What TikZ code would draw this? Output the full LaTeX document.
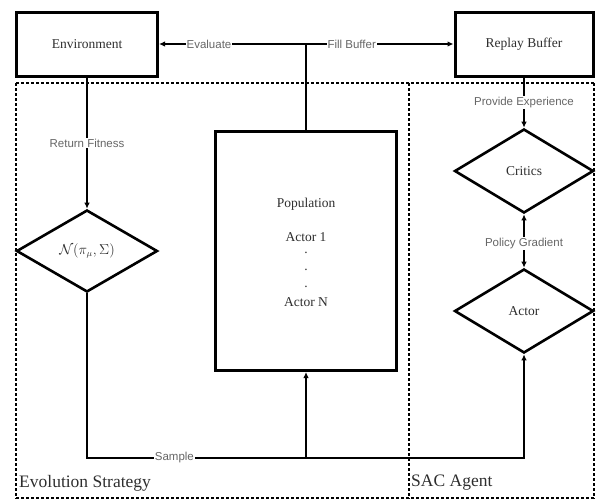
\documentclass[tikz,border=0pt]{standalone}
\usepackage{fontspec}
\setmainfont{Liberation Serif}
\newfontfamily\lblfont{Liberation Sans}
\usetikzlibrary{shapes.geometric,arrows.meta}
\definecolor{lblgray}{HTML}{666666}
\definecolor{boxtext}{HTML}{2E2E2E}
\tikzset{
  boxnode/.style={draw, line width=3pt, rectangle, inner sep=0pt, text=boxtext, font=\fontsize{13.5}{16}\selectfont},
  dianode/.style={draw, line width=2.6pt, diamond, inner sep=0pt, text=boxtext, font=\fontsize{13.5}{16}\selectfont},
  conn/.style={draw, line width=2.2pt},
  tip/.style={-{Latex[length=6pt,width=5.5pt]}},
  dtip/.style={{Latex[length=6pt,width=5.5pt]}-{Latex[length=6pt,width=5.5pt]}},
  lbl/.style={fill=white, inner sep=1pt, text=lblgray, font=\lblfont\fontsize{11.5}{13}\selectfont},
  region/.style={draw, line width=1.2pt, dash pattern=on 3pt off 2pt},
  regionlbl/.style={anchor=west, inner sep=0pt, text=boxtext, font=\fontsize{17.5}{20}\selectfont},
  poptext/.style={inner sep=0pt, text=boxtext, font=\fontsize{13.5}{16}\selectfont}
}
\begin{document}
\begin{tikzpicture}[x=1pt,y=-1pt]
\useasboundingbox (0,0) rectangle (596,499);
% regions
\draw[region] (16,83) -- (594,83);
\draw[region] (16,83) -- (16,499);
\draw[region] (409,83) -- (409,499);
\draw[region] (594,83) -- (594,499);
\draw[region] (16,498) -- (594,498);
\node[regionlbl] (es) at (19,483) {Evolution Strategy};
\node[regionlbl] (sac) at (411,483) {SAC Agent};
% nodes
\node[boxnode, minimum width=141pt, minimum height=64pt] (env) at (87,44) {Environment};
\node[boxnode, minimum width=138pt, minimum height=64pt] (rb) at (524,44) {Replay Buffer};
\node[boxnode, minimum width=181pt, minimum height=239pt] (pop) at (306,251) {};
\node[poptext] (pt) at (306,204) {Population};
\node[poptext] (a1) at (306,237) {Actor 1};
\node[poptext] (d1) at (306,253) {.};
\node[poptext] (d2) at (306,270) {.};
\node[poptext] (d3) at (306,287) {.};
\node[poptext] (an) at (306,302) {Actor N};
\node[dianode, minimum width=141pt, minimum height=82pt] (nd) at (87,251) {$\mathcal{N}(\pi_\mu,\Sigma)$};
\node[dianode, minimum width=139pt, minimum height=84pt] (cr) at (524,171) {Critics};
\node[dianode, minimum width=139pt, minimum height=84pt] (ac) at (524,311) {Actor};
% connectors
\coordinate (j) at (pop.north |- env.east);
\draw[conn] (pop.north) -- (j);
\draw[conn,tip] (j) -- node[lbl, pos=0.66] {Evaluate} (env.east);
\draw[conn,tip] (j) -- node[lbl, pos=0.31] {Fill Buffer} (rb.west);
\draw[conn,tip] (env.south) -- node[lbl, pos=0.5] {Return Fitness} (nd.north);
\draw[conn,tip] (rb.south) -- node[lbl, pos=0.5] {Provide Experience} (cr.north);
\draw[conn,dtip] (cr.south) -- node[lbl, pos=0.55] {Policy Gradient} (ac.north);
\coordinate (b1) at (nd.south |- 0,458);
\coordinate (b2) at (ac.south |- 0,458);
\coordinate (b3) at (pop.south |- 0,458);
\draw[conn,tip] (nd.south) -- (b1) -- node[lbl, pos=0.2] {Sample} (b2) -- (ac.south);
\draw[conn,tip] (b3) -- (pop.south);
\end{tikzpicture}
\end{document}
